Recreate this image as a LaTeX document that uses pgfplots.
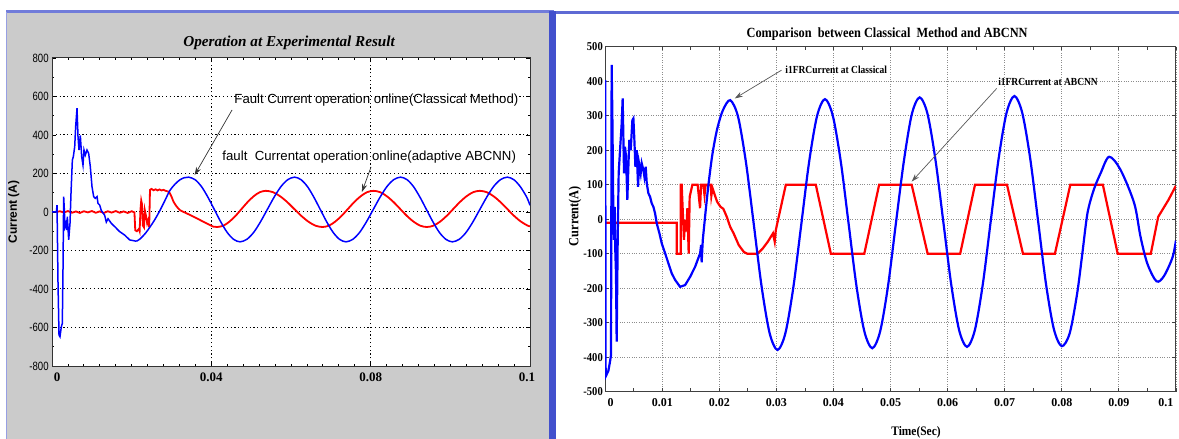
\documentclass[border=0pt]{standalone}
\usepackage{fontspec}
\setmainfont{Liberation Serif}
\newfontfamily\nserif[FakeStretch=0.88]{Liberation Serif}
\newfontfamily\nsans[FakeStretch=0.8]{Liberation Sans}
\newfontfamily\arialf{Liberation Sans}
\usepackage{pgfplots}
\pgfplotsset{compat=1.18}
\usetikzlibrary{arrows.meta}
\definecolor{panelgray}{RGB}{203,203,203}
\definecolor{frameblue}{RGB}{66,80,205}

% left panel: experimental result
\pgfplotstableread{
t v
0 0
0.0011 0
0.00126 36
0.00151 -370
0.00176 -639
0.002 -648
0.00234 -596
0.00259 -579
0.00276 -301
0.00293 80
0.0031 10
0.00327 -76
0.00352 -59
0.00368 -94
0.00385 -24
0.00419 -145
0.00452 -59
0.00477 97
0.00511 270
0.00536 288
0.0057 339
0.00594 443
0.00628 539
0.00653 391
0.00678 322
0.00711 398
0.00745 288
0.00778 244
0.00803 322
0.00837 296
0.00879 322
0.0092 305
0.00962 235
0.01004 132
0.01046 80
0.01088 71
0.0113 80
0.01155 45
0.01197 36
0.01239 7
0.01322 -17
0.01364 -52
0.01406 -35
0.0149 -59
0.01574 -76
0.01699 -102
0.01825 -120
0.0195 -145
0.02118 -152
}\leftblueA

\pgfplotstableread{
t v
0.02118 -152
0.0221 -140
0.0234 -112
0.0246 -78
0.0258 -40
0.0271 8
0.0284 62
0.0296 112
0.0309 145
0.0321 167
0.0332 178
0.0343 181
0.03591 168
0.03753 132
0.03914 77
0.04075 13
0.04236 -51
0.04398 -106
0.04559 -142
0.0472 -155
0.04891 -142
0.05063 -106
0.05234 -51
0.05405 13
0.05576 77
0.05748 132
0.05919 168
0.0609 181
0.06251 168
0.06413 132
0.06574 77
0.06735 13
0.06896 -51
0.07058 -106
0.07219 -142
0.0738 -155
0.07551 -142
0.07723 -106
0.07894 -51
0.08065 13
0.08236 77
0.08408 132
0.08579 168
0.0875 181
0.08913 168
0.09075 132
0.09238 77
0.094 13
0.09563 -51
0.09725 -106
0.09888 -142
0.1005 -155
0.10223 -142
0.10395 -106
0.10568 -51
0.1074 13
0.10913 77
0.11085 132
0.11258 168
0.1143 181
0.11593 168
0.11755 132
0.11918 77
0.12 35
}\leftblueB

\pgfplotstableread{
t v
0.0011 0
0.002 4
0.003 -3
0.004 5
0.005 -4
0.006 3
0.007 -5
0.008 4
0.009 -2
0.010 5
0.011 -4
0.012 3
0.013 -5
0.014 4
0.015 -3
0.016 5
0.017 -4
0.018 3
0.019 -5
0.020 4
0.0207 -2
0.0209 -95
0.0213 -100
0.0218 -88
0.022 -100
0.0222 10
0.0224 60
0.0226 40
0.0228 -70
0.0231 -80
0.0233 10
0.0236 -20
0.0239 -60
0.0242 -40
0.0244 -80
0.0246 115
0.025 120
0.0255 113
0.026 118
0.0265 112
0.027 117
0.0275 112
0.028 115
0.0285 110
0.029 108
}\leftredA

\pgfplotstableread{
t v
0.029 108
0.0295 100
0.03 80
0.0305 54
0.0313 28
0.0321 10
0.0338 -7
0.0355 -24
0.0372 -42
0.0388 -59
0.0405 -76
0.0415 -78
0.04303 -71
0.04455 -50
0.04608 -20
0.0476 16
0.04913 52
0.05065 82
0.05218 103
0.0537 110
0.05548 103
0.05725 82
0.05903 52
0.0608 16
0.06258 -20
0.06435 -50
0.06613 -71
0.0679 -78
0.0695 -71
0.0711 -50
0.0727 -20
0.0743 16
0.0759 52
0.0775 82
0.0791 103
0.0807 110
0.08238 103
0.08405 82
0.08573 52
0.0874 16
0.08908 -20
0.09075 -50
0.09243 -71
0.0941 -78
0.09576 -71
0.09743 -50
0.09909 -20
0.10075 16
0.10241 52
0.10408 82
0.10574 103
0.1074 110
0.10912 103
0.11084 82
0.11256 52
0.11428 16
0.116 -20
0.11772 -50
0.11944 -71
0.12 -74
}\leftredB

% right panel: simulation
\pgfplotstableread{
t v
0 403
0.00008 -456
0.00055 -440
0.00084 -413
0.00102 -394
0.00113 447
0.00125 307
0.00143 7
0.00154 -60
0.00166 36
0.00178 -99
0.00189 -157
0.00201 -355
0.00219 -60
0.00236 133
0.0026 200
0.00289 278
0.00306 350
0.0033 133
0.00347 210
0.00365 181
0.00388 56
0.00406 152
0.00423 230
0.00447 200
0.00476 287
0.00494 292
0.00511 230
0.00529 152
0.00552 200
0.00576 94
0.00593 162
0.00622 133
0.0064 162
0.00669 143
0.00687 123
0.0071 152
0.00728 104
0.00757 75
0.00786 65
0.00815 46
0.00844 36
0.00874 17
0.00903 -12
0.0095 -41
0.00991 -70
0.0105 -99
0.01108 -128
0.01166 -157
0.01225 -176
0.01312 -196
0.014 -191
0.01488 -167
0.01575 -138
0.01663 -99
0.0168 -75
0.0169 -125
0.0171 -60
}\rightblueA

\pgfplotstableread{
t v
0.0171 -60
0.0177 40
0.0182 115
0.0188 190
0.0196 260
0.0206 315
0.0219 345
0.02328 297
0.02467 164
0.02605 -17
0.02743 -198
0.02882 -331
0.0302 -379
0.03158 -330
0.03297 -197
0.03435 -16
0.03573 166
0.03712 299
0.0385 348
0.03988 300
0.04127 168
0.04265 -13
0.04403 -194
0.04542 -326
0.0468 -374
0.04818 -325
0.04957 -192
0.05095 -10
0.05233 168
0.05372 304
0.0551 353
0.05648 305
0.05787 172
0.05925 -8
0.06063 -189
0.06202 -322
0.0634 -370
0.06478 -321
0.06617 -188
0.06755 -6
0.06893 175
0.07032 308
0.0717 357
0.07308 308
0.07447 176
0.07585 -5
0.07723 -187
0.07862 -319
0.0800 -368
0.0814 -330
0.0827 -215
0.0836 -100
0.0845 17
0.0856 85
0.0868 133
0.0883 181
0.0903 143
0.0927 46
0.0938 -51
0.0950 -129
0.0966 -180
0.0979 -165
0.0994 -111
0.1 -62
}\rightblueB

\pgfplotstableread{
t v
0 -10
0.01253 -10
0.01253 -100
0.01323 -100
0.01323 100
0.0134 100
0.0138 -60
0.0140 -2
0.0142 -36
0.0144 32
0.01463 -100
0.0148 65
0.01528 100
0.0158 100
0.0162 100
0.01662 32
0.0168 100
0.0172 100
0.0174 70
0.0176 100
0.01849 100
0.0186 68
0.0188 90
0.0190 80
0.0196 51
0.0202 36
0.0207 30
0.0213 7
0.0219 -22
0.0225 -41
0.0234 -75
0.0243 -95
0.0249 -100
0.02668 -100
0.0276 -85
0.0285 -65
0.0294 -41
0.0297 -65
0.0299 -31
0.03165 100
0.0369 100
0.03954 -100
0.0454 -100
0.0480 100
0.0537 100
0.0565 -100
0.0622 -100
0.0648 100
0.0704 100
0.0732 -100
0.0788 -100
0.0815 100
0.0872 100
0.0898 -100
0.0956 -100
0.0969 7
0.0987 56
0.1 97
}\rightred

\begin{document}
\begin{tikzpicture}
\useasboundingbox (0,0) rectangle (589.5pt,-219.5pt);
\clip (0,0) rectangle (589.5pt,-219.5pt);
\fill[white] (0,0) rectangle (589.5pt,-219.5pt);
% panel frames
\fill[panelgray] (3pt,-6.5pt) rectangle (275pt,-219.5pt);
\fill[frameblue!75!white] (3pt,-5pt) rectangle (277pt,-6.5pt);
\fill[frameblue!85!white] (277pt,-5.7pt) rectangle (589.5pt,-7pt);
\fill[frameblue] (274.5pt,-5.5pt) rectangle (278pt,-219.5pt);
\draw[frameblue!55!white, line width=0.6pt] (3.3pt,-6pt) -- (3.3pt,-219.5pt);

\begin{axis}[
    at={(26pt,-183pt)}, anchor=south west,
    scale only axis, width=239pt, height=154pt,
    xmin=0, xmax=0.12, ymin=-800, ymax=800,
    xtick={0,0.04,0.08,0.12},
    xticklabels={\hspace*{5pt}0,0.04,0.08,\hspace*{-3pt}0.1},
    ytick={-800,-600,...,800},
    minor x tick num=9, minor y tick num=1,
    major tick length=2pt, minor tick length=1.2pt,
    grid=major,
    grid style={black, line width=0.5pt, dash pattern=on 0.6pt off 1.3pt},
    axis background/.style={fill=white},
    axis line style={black!80, line width=0.5pt},
    tick style={black, line width=0.4pt},
    /pgf/number format/assume math mode=true,
    yticklabel style={font=\nsans\fontsize{6}{7}\selectfont, inner sep=1.5pt},
    xticklabel style={font=\bfseries\fontsize{6.5}{7}\selectfont},
    title={Operation at Experimental Result},
    title style={font=\bfseries\itshape\fontsize{7.6}{9}\selectfont,
        at={(axis description cs:0.496,1.058)}, anchor=center, yshift=-7.5pt},
    ylabel={Current (A)},
    ylabel style={font=\arialf\bfseries\fontsize{6}{7}\selectfont,
        at={(axis description cs:-0.08,0.5)}, anchor=center},
    clip mode=individual,
]
\addplot[red, line width=0.9pt] table[x=t, y=v] {\leftredA};
\addplot[red, line width=0.9pt, smooth] table[x=t, y=v] {\leftredB};
\addplot[blue, line width=0.75pt] table[x=t, y=v] {\leftblueA};
\addplot[blue, line width=0.75pt, smooth] table[x=t, y=v] {\leftblueB};
\draw[-{Stealth[length=4pt,width=2.6pt]}, line width=0.35pt, black!80]
    (axis cs:0.0452,530) -- (axis cs:0.0358,192);
\draw[-{Stealth[length=4pt,width=2.6pt]}, line width=0.35pt, black!80]
    (axis cs:0.0801,234) -- (axis cs:0.0778,104);
\node[anchor=west, inner sep=0pt, font=\arialf\fontsize{6.6}{7}\selectfont]
    at (axis cs:0.0457,582) {Fault Current operation online(Classical Method)};
\node[anchor=west, inner sep=0pt, font=\arialf\fontsize{6.6}{7}\selectfont]
    at (axis cs:0.0427,286) {fault\ \ Currentat operation online(adaptive ABCNN)};
\end{axis}

\begin{axis}[
    at={(302.6pt,-195.85pt)}, anchor=south west,
    scale only axis, width=285.35pt, height=172.5pt,
    xmin=0, xmax=0.1, ymin=-500, ymax=500,
    xtick={0,0.01,0.02,0.03,0.04,0.05,0.06,0.07,0.08,0.09,0.1},
    xticklabels={\hspace*{5.5pt}0,0.01,0.02,0.03,0.04,0.05,0.06,0.07,0.08,0.09,\hspace*{-10pt}0.1},
    ytick={-500,-400,...,500},
    minor x tick num=1,
    major tick length=1.8pt, minor tick length=1.8pt,
    grid=major,
    grid style={black!45, line width=0.4pt, dash pattern=on 0.4pt off 0.8pt},
    axis line style={black!75, line width=0.5pt},
    tick style={black!75, line width=0.4pt},
    /pgf/number format/assume math mode=true,
    yticklabel style={font=\nserif\bfseries\fontsize{6}{7}\selectfont, inner sep=1pt},
    xticklabel style={font=\bfseries\fontsize{6}{7}\selectfont},
    title={Comparison\ \ between Classical\ \ Method and ABCNN},
    title style={font=\nserif\bfseries\fontsize{7}{8}\selectfont,
        at={(axis description cs:0.494,1.0435)}, anchor=center, yshift=-7pt},
    xlabel={Time(Sec)},
    xlabel style={font=\nserif\bfseries\fontsize{6.5}{7}\selectfont,
        at={(axis description cs:0.5446,-0.117)}, anchor=center},
    ylabel={Current(A)},
    ylabel style={font=\nserif\bfseries\fontsize{7}{8}\selectfont,
        at={(axis description cs:-0.053,0.509)}, anchor=center},
    clip mode=individual,
]
\addplot[red, line width=1.1pt] table[x=t, y=v] {\rightred};
\addplot[blue, line width=1.1pt] table[x=t, y=v] {\rightblueA};
\addplot[blue, line width=1.1pt, smooth] table[x=t, y=v] {\rightblueB};
\draw[-{Stealth[length=4pt,width=2.6pt]}, line width=0.35pt, black!65]
    (axis cs:0.0309,432) -- (axis cs:0.0227,350);
\draw[-{Stealth[length=4pt,width=2.6pt]}, line width=0.35pt, black!65]
    (axis cs:0.0686,379) -- (axis cs:0.0537,109);
\node[anchor=west, inner sep=0pt, font=\nserif\bfseries\fontsize{5.4}{6}\selectfont]
    at (axis cs:0.0315,432) {i1FRCurrent at Classical};
\node[anchor=west, inner sep=0pt, font=\nserif\bfseries\fontsize{5.4}{6}\selectfont]
    at (axis cs:0.0688,397) {i1FRCurrent at ABCNN};
\end{axis}
\end{tikzpicture}
\end{document}
